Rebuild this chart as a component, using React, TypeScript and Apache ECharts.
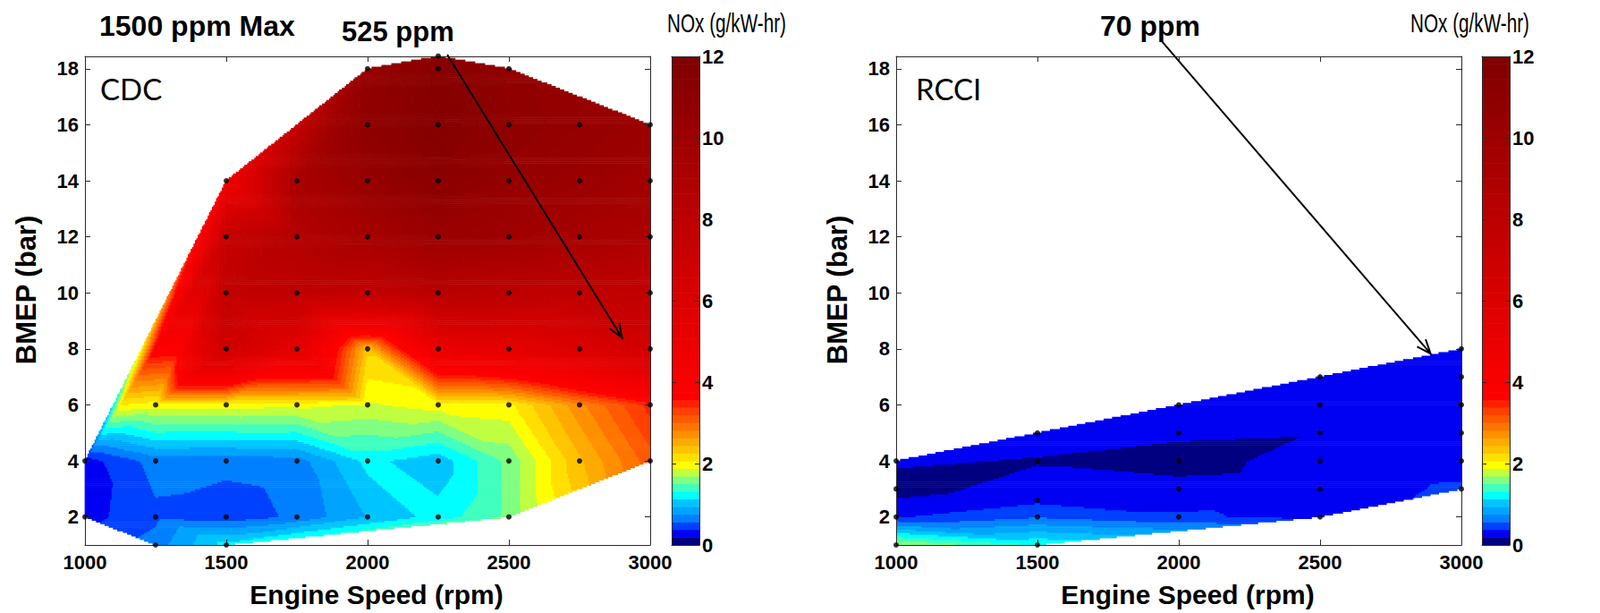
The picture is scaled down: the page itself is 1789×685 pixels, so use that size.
import { useEffect, useRef } from "react";
import * as echarts from "echarts";

// ---------------- data ----------------
// CDC measured operating points (rpm, BMEP bar, NOx g/kW-hr)
const cdcRpm = [
  1000, 1000,
  1250, 1250, 1250, 1250,
  1500, 1500, 1500, 1500, 1500, 1500, 1500, 1500,
  1750, 1750, 1750, 1750, 1750, 1750, 1750,
  2000, 2000, 2000, 2000, 2000, 2000, 2000, 2000, 2000,
  2250, 2250, 2250, 2250, 2250, 2250, 2250, 2250, 2250, 2250,
  2500, 2500, 2500, 2500, 2500, 2500, 2500, 2500, 2500,
  2750, 2750, 2750, 2750, 2750, 2750, 2750,
  3000, 3000, 3000, 3000, 3000, 3000, 3000,
];
const cdcBmep = [
  2, 4,
  1, 2, 4, 6,
  1, 2, 4, 6, 8, 10, 12, 14,
  2, 4, 6, 8, 10, 12, 14,
  2, 4, 6, 8, 10, 12, 14, 16, 18,
  2, 4, 6, 8, 10, 12, 14, 16, 18, 18.45,
  2, 4, 6, 8, 10, 12, 14, 16, 18,
  4, 6, 8, 10, 12, 14, 16,
  4, 6, 8, 10, 12, 14, 16,
];
const cdcNox = [
  0.3, 0.28,
  0.65, 0.52, 0.64, 1.95,
  1.2, 0.45, 0.62, 1.95, 6.8, 7.6, 7.4, 4.6,
  0.6, 0.66, 1.92, 5.4, 7.8, 8.6, 9.2,
  0.95, 1.18, 1.85, 2.3, 7.6, 9.4, 10.4, 10.9, 10.5,
  1.2, 1.0, 1.95, 5.0, 8.2, 10.2, 11.2, 11.7, 11.5, 11.2,
  1.55, 1.55, 2.0, 5.3, 8.0, 9.9, 10.5, 10.9, 10.8,
  2.4, 2.75, 5.9, 7.8, 9.4, 10.2, 10.5,
  3.1, 3.45, 6.6, 7.6, 9.0, 9.8, 10.2,
];

// RCCI measured operating points
const rcciRpm = [
  1000, 1000, 1000, 1000,
  1500, 1500, 1500, 1500, 1500,
  2000, 2000, 2000, 2000, 2000,
  2500, 2500, 2500, 2500, 2500, 2500,
  3000, 3000, 3000, 3000, 3000, 3000,
];
const rcciBmep = [
  1, 2, 3, 4,
  1, 2, 2.6, 4, 5,
  2, 3, 4, 5, 6,
  2, 3, 4, 5, 6, 7,
  3, 4, 5, 6, 7, 8,
];
const rcciNox = [
  1.72, 0.36, 0.1, 0.22,
  1.3, 0.55, 0.33, 0.17, 0.3,
  0.4, 0.26, 0.1, 0.225, 0.3,
  0.33, 0.3, 0.28, 0.2, 0.3, 0.3,
  0.4, 0.3, 0.3, 0.3, 0.3, 0.3,
];

// annotation arrows [rpmStart, bmepStart, rpmEnd, bmepEnd]
const cdcArrow = [2282, 18.5, 2900, 8.4];
const rcciArrow = [1934, 19.05, 2891, 7.83];

// axes
const xMin = 1000;
const xMax = 3000;
const xInterval = 500;
const yMin = 1;
const yMax = 18.44;
const yTicks = [2, 4, 6, 8, 10, 12, 14, 16, 18];
const noxMin = 0;
const noxMax = 12;
const noxInterval = 2;
const nLevels = 64;

// texts
const cdcTitle = "1500 ppm Max";
const cdcNote = "525 ppm";
const rcciNote = "70 ppm";
const cbTitle = "NOx (g/kW-hr)";
const xName = "Engine Speed (rpm)";
const yName = "BMEP (bar)";

// ---------------- colormap (style) ----------------
const lowColors = [
  "#000080", "#0000f2", "#0040ff", "#0080ff", "#00a4ff", "#00c4ff", "#00ffff",
  "#40ffbf", "#80ff80", "#bfff40", "#ffff00", "#ffdf00", "#ffc400", "#ffaa00",
  "#ff9000", "#ff7500", "#ff5a00", "#ff4000", "#ff2000",
];
function buildColormap(): string[] {
  const out = lowColors.slice();
  const n = nLevels - lowColors.length;
  for (let i = 0; i < n; i++) {
    const t = i / (n - 1);
    const r = Math.round(255 - 127 * t);
    out.push(`rgb(${r},0,0)`);
  }
  return out;
}
const cmap = buildColormap();
const levelOf = (v: number) =>
  Math.min(nLevels - 1, Math.max(0, Math.floor(((v - noxMin) / (noxMax - noxMin)) * nLevels)));

// ---------------- triangulation (Bowyer-Watson) ----------------
function triangulate(px: number[], py: number[]): number[][] {
  const n = px.length;
  let minX = Infinity, minY = Infinity, maxX = -Infinity, maxY = -Infinity;
  for (let i = 0; i < n; i++) {
    minX = Math.min(minX, px[i]); maxX = Math.max(maxX, px[i]);
    minY = Math.min(minY, py[i]); maxY = Math.max(maxY, py[i]);
  }
  const d = Math.max(maxX - minX, maxY - minY) * 1000;
  const mx = (minX + maxX) / 2, my = (minY + maxY) / 2;
  const X = px.concat([mx - d, mx, mx + d]);
  const Y = py.concat([my - d, my + d, my - d]);
  type T = { a: number; b: number; c: number; ux: number; uy: number; r2: number };
  const mk = (a: number, b: number, c: number): T => {
    const ax = X[a], ay = Y[a], bx = X[b], by = Y[b], cx = X[c], cy = Y[c];
    const D = 2 * (ax * (by - cy) + bx * (cy - ay) + cx * (ay - by));
    const ux = ((ax * ax + ay * ay) * (by - cy) + (bx * bx + by * by) * (cy - ay) + (cx * cx + cy * cy) * (ay - by)) / D;
    const uy = ((ax * ax + ay * ay) * (cx - bx) + (bx * bx + by * by) * (ax - cx) + (cx * cx + cy * cy) * (bx - ax)) / D;
    return { a, b, c, ux, uy, r2: (ax - ux) ** 2 + (ay - uy) ** 2 };
  };
  let tris: T[] = [mk(n, n + 1, n + 2)];
  for (let i = 0; i < n; i++) {
    const x = X[i], y = Y[i];
    const bad: T[] = [], good: T[] = [];
    for (const t of tris) ((x - t.ux) ** 2 + (y - t.uy) ** 2 < t.r2 ? bad : good).push(t);
    const edges: number[][] = [];
    for (const t of bad) edges.push([t.a, t.b], [t.b, t.c], [t.c, t.a]);
    for (let e = 0; e < edges.length; e++) {
      const p = edges[e][0], q = edges[e][1];
      let shared = false;
      for (let f = 0; f < edges.length; f++) {
        if (f === e) continue;
        const r = edges[f][0], s = edges[f][1];
        if ((p === r && q === s) || (p === s && q === r)) { shared = true; break; }
      }
      if (!shared) good.push(mk(p, q, i));
    }
    tris = good;
  }
  return tris.filter((t) => t.a < n && t.b < n && t.c < n).map((t) => [t.a, t.b, t.c]);
}

function makeInterpolator(rpm: number[], bmep: number[], nox: number[], sx: number, sy: number) {
  const nx = rpm.map((v, i) => v / sx + 1e-6 * ((i * 7) % 13));
  const ny = bmep.map((v, i) => v / sy + 1e-6 * ((i * 11) % 17));
  const tris = triangulate(nx, ny);
  const pre = tris.map(([a, b, c]) => {
    const x1 = nx[a], y1 = ny[a], x2 = nx[b], y2 = ny[b], x3 = nx[c], y3 = ny[c];
    const det = (y2 - y3) * (x1 - x3) + (x3 - x2) * (y1 - y3);
    return { x1, y1, x2, y2, x3, y3, det, va: nox[a], vb: nox[b], vc: nox[c] };
  });
  let last = 0;
  return (x: number, y: number) => {
    const px = x / sx, py = y / sy;
    const m = pre.length;
    for (let k = 0; k < m; k++) {
      const j = (k + last) % m;
      const t = pre[j];
      const l1 = ((t.y2 - t.y3) * (px - t.x3) + (t.x3 - t.x2) * (py - t.y3)) / t.det;
      const l2 = ((t.y3 - t.y1) * (px - t.x3) + (t.x1 - t.x3) * (py - t.y3)) / t.det;
      const l3 = 1 - l1 - l2;
      if (l1 >= -1e-9 && l2 >= -1e-9 && l3 >= -1e-9) {
        last = j;
        return l1 * t.va + l2 * t.vb + l3 * t.vc;
      }
    }
    return NaN;
  };
}

// run-length raster of the interpolated field: [x0, x1, y0, y1, level]
function rasterize(interp: (x: number, y: number) => number, dx: number, dy: number): number[][] {
  const items: number[][] = [];
  const nRows = Math.ceil((yMax - yMin) / dy);
  const nCols = Math.round((xMax - xMin) / dx);
  for (let r = 0; r < nRows; r++) {
    const y0 = yMin + r * dy;
    const y1 = Math.min(yMax, y0 + dy);
    const yc = (y0 + y1) / 2;
    let runStart = 0, runIdx = -1;
    for (let c = 0; c <= nCols; c++) {
      let idx = -1;
      if (c < nCols) {
        const v = interp(xMin + (c + 0.5) * dx, yc);
        if (!isNaN(v)) idx = levelOf(v);
      }
      if (idx !== runIdx) {
        if (runIdx >= 0) items.push([xMin + runStart * dx, xMin + c * dx, y0, y1, runIdx]);
        runStart = c;
        runIdx = idx;
      }
    }
  }
  return items;
}

// ---------------- layout / style ----------------
const FONT = "'Liberation Sans', Arial, Helvetica, sans-serif";
const FRAME = "#2a2a2a";
const plotGrids = [
  { left: 95, top: 63, width: 632, height: 546 },
  { left: 1002, top: 63, width: 632, height: 546 },
];
const cbGrids = [
  { left: 751, top: 63, width: 31, height: 546 },
  { left: 1657, top: 63, width: 31, height: 546 },
];

export default function App() {
  const ref = useRef<HTMLDivElement>(null);
  useEffect(() => {
    if (!ref.current) return;
    const chart = echarts.init(ref.current, null, { renderer: "svg" });

    const cdcField = rasterize(makeInterpolator(cdcRpm, cdcBmep, cdcNox, 250, 2), 5, 0.0625);
    const rcciField = rasterize(makeInterpolator(rcciRpm, rcciBmep, rcciNox, 500, 1), 5, 0.0625);
    const cdcPts = cdcRpm.map((x, i) => [x, cdcBmep[i]]);
    const rcciPts = rcciRpm.map((x, i) => [x, rcciBmep[i]]);
    const cbLevels = cmap.map((_, i) => [i]);

    const lineStyle = { color: FRAME, width: 1 };
    const tickLabel = {
      color: "#000", fontSize: 22, fontWeight: "bold" as const, fontFamily: FONT,
      formatter: (v: number) => `${v}`,
    };
    const nameStyle = (size: number, padding: number[]) => ({
      color: "#000", fontSize: size, fontWeight: "bold", fontFamily: FONT, padding,
    });

    const xAxes: any[] = [];
    const yAxes: any[] = [];
    [0, 1].forEach((g) => {
      xAxes.push({
        gridIndex: g, type: "value", min: xMin, max: xMax, interval: xInterval, position: "bottom", z: 10,
        axisLine: { show: true, onZero: false, lineStyle },
        axisTick: { show: true, inside: true, length: 6, lineStyle },
        axisLabel: { ...tickLabel, margin: 8 },
        splitLine: { show: false },
        name: xName, nameLocation: "middle", nameGap: 40, nameTextStyle: nameStyle(30, [0, 0, 0, 20]),
      });
      xAxes.push({
        gridIndex: g, type: "value", min: xMin, max: xMax, interval: xInterval, position: "top", z: 10,
        axisLine: { show: true, onZero: false, lineStyle },
        axisTick: { show: true, inside: true, length: 6, lineStyle },
        axisLabel: { show: false }, splitLine: { show: false },
      });
      yAxes.push({
        gridIndex: g, type: "value", min: yMin, max: yMax, position: "left", z: 10,
        axisLine: { show: true, onZero: false, lineStyle },
        axisTick: { show: true, inside: true, length: 6, lineStyle, customValues: yTicks },
        axisLabel: { ...tickLabel, margin: 7, customValues: yTicks },
        splitLine: { show: false },
        name: yName, nameLocation: "middle", nameGap: 50, nameRotate: 90,
        nameTextStyle: nameStyle(31, [0, 0, 0, 24]),
      });
      yAxes.push({
        gridIndex: g, type: "value", min: yMin, max: yMax, position: "right", z: 10,
        axisLine: { show: true, onZero: false, lineStyle },
        axisTick: { show: true, inside: true, length: 6, lineStyle, customValues: yTicks },
        axisLabel: { show: false, customValues: yTicks }, splitLine: { show: false },
      });
    });
    [2, 3].forEach((g) => {
      xAxes.push({
        gridIndex: g, type: "value", min: 0, max: 1, position: "bottom", z: 10,
        axisLine: { show: true, onZero: false, lineStyle }, axisTick: { show: false },
        axisLabel: { show: false }, splitLine: { show: false },
      });
      xAxes.push({
        gridIndex: g, type: "value", min: 0, max: 1, position: "top", z: 10,
        axisLine: { show: true, onZero: false, lineStyle }, axisTick: { show: false },
        axisLabel: { show: false }, splitLine: { show: false },
      });
      yAxes.push({
        gridIndex: g, type: "value", min: noxMin, max: noxMax, interval: noxInterval, position: "left", z: 10,
        axisLine: { show: true, onZero: false, lineStyle },
        axisTick: { show: true, inside: true, length: 5, lineStyle },
        axisLabel: { show: false }, splitLine: { show: false },
      });
      yAxes.push({
        gridIndex: g, type: "value", min: noxMin, max: noxMax, interval: noxInterval, position: "right", z: 10,
        axisLine: { show: true, onZero: false, lineStyle },
        axisTick: { show: true, inside: true, length: 5, lineStyle },
        axisLabel: { ...tickLabel, margin: 3, showMinLabel: true, showMaxLabel: true },
        splitLine: { show: false },
      });
    });

    const fieldSeries = (data: number[][], axis: number) => ({
      type: "custom", xAxisIndex: axis, yAxisIndex: axis, clip: true, silent: true, z: 1,
      encode: { x: [0, 1], y: [2, 3] },
      renderItem: (_p: any, api: any) => {
        const a = api.coord([api.value(0), api.value(3)]);
        const b = api.coord([api.value(1), api.value(2)]);
        return {
          type: "rect",
          shape: { x: a[0] - 0.3, y: a[1] - 0.3, width: b[0] - a[0] + 0.6, height: b[1] - a[1] + 0.6 },
          style: { fill: cmap[api.value(4)] },
        };
      },
      data,
    });
    const cbSeries = (axis: number) => ({
      type: "custom", xAxisIndex: axis, yAxisIndex: axis, clip: true, silent: true, z: 1,
      renderItem: (_p: any, api: any) => {
        const i = api.value(0);
        const step = (noxMax - noxMin) / nLevels;
        const a = api.coord([0, noxMin + (i + 1) * step]);
        const b = api.coord([1, noxMin + i * step]);
        return {
          type: "rect",
          shape: { x: a[0], y: a[1] - 0.3, width: b[0] - a[0], height: b[1] - a[1] + 0.6 },
          style: { fill: cmap[i] },
        };
      },
      data: cbLevels,
    });
    const pointSeries = (data: number[][], axis: number) => ({
      type: "scatter", xAxisIndex: axis, yAxisIndex: axis, clip: false, silent: true, z: 20,
      symbol: "circle", symbolSize: 6, itemStyle: { color: "#000" }, data,
    });
    const arrowSeries = (arrow: number[], axis: number) => ({
      type: "custom", xAxisIndex: axis, yAxisIndex: axis, clip: false, silent: true, z: 30,
      renderItem: (_p: any, api: any) => {
        const p0 = api.coord([api.value(0), api.value(1)]);
        const p1 = api.coord([api.value(2), api.value(3)]);
        const ang = Math.atan2(p1[1] - p0[1], p1[0] - p0[0]);
        const L = 17, w = 0.38;
        const h1 = [p1[0] - L * Math.cos(ang - w), p1[1] - L * Math.sin(ang - w)];
        const h2 = [p1[0] - L * Math.cos(ang + w), p1[1] - L * Math.sin(ang + w)];
        return {
          type: "group",
          children: [
            { type: "line", shape: { x1: p0[0], y1: p0[1], x2: p1[0], y2: p1[1] }, style: { stroke: "#000", lineWidth: 2 } },
            { type: "polyline", shape: { points: [h1, p1, h2] }, style: { stroke: "#000", lineWidth: 2, fill: "none" } },
          ],
        };
      },
      data: [arrow],
    });

    const txt = (text: string, x: number, y: number, size: number, weight: string, family = FONT, sx = 1) => ({
      type: "text", x, y, z: 50, scaleX: sx,
      style: { text, fontSize: size, fontWeight: weight, fontFamily: family, fill: "#000", align: "left", verticalAlign: "middle" },
    });

    chart.setOption({
      animation: false,
      backgroundColor: "#ffffff",
      grid: [...plotGrids, ...cbGrids],
      xAxis: xAxes,
      yAxis: yAxes,
      series: [
        fieldSeries(cdcField, 0),
        fieldSeries(rcciField, 2),
        cbSeries(4),
        cbSeries(6),
        pointSeries(cdcPts, 0),
        pointSeries(rcciPts, 2),
        arrowSeries(cdcArrow, 0),
        arrowSeries(rcciArrow, 2),
      ],
      graphic: [
        txt(cdcTitle, 111, 29, 32, "bold"),
        txt(cdcNote, 382, 35, 31, "bold"),
        txt(cbTitle, 746, 26, 30, "normal", FONT, 0.69),
        txt(rcciNote, 1230, 29, 32, "bold"),
        txt(cbTitle, 1577, 26, 30, "normal", FONT, 0.69),
        txt("CDC", 112, 99, 33, "normal", "Lato, 'Open Sans', sans-serif"),
        txt("RCCI", 1024, 99, 33, "normal", "Lato, 'Open Sans', sans-serif"),
      ],
    });
    return () => chart.dispose();
  }, []);
  return <div ref={ref} style={{ position: "absolute", left: 0, top: 0, width: 1789, height: 685 }} />;
}
